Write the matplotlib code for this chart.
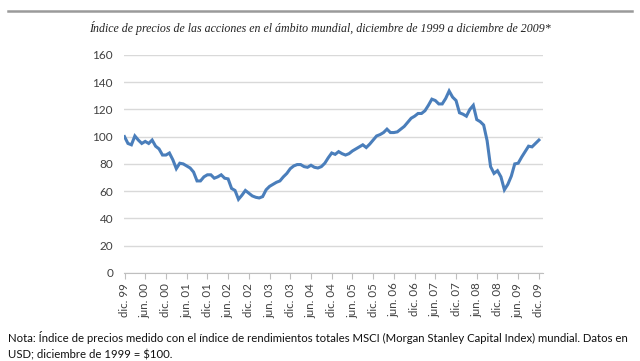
import numpy as np
import matplotlib
matplotlib.use("Agg")
import matplotlib.pyplot as plt

# monthly index, Dec 1999 = 100
index_values = [
    100, 95, 94, 100.5, 97.5, 95, 96.5, 95, 97.5, 93, 91, 86.5,
    86.5, 88, 83, 76.5, 80.5, 80, 78.5, 77, 74, 67.5, 67.5, 70.5,
    72, 72, 69.5, 70.5, 72, 69.5, 69, 62, 60.5, 54, 57, 60.5,
    58.5, 56.5, 55.5, 55, 56, 61, 63.5, 65, 66.5, 67.5, 70.5, 73,
    76.5, 78.5, 79.5, 79.5, 78, 77.5, 79, 77.5, 77, 78, 80.5, 84.5,
    88, 87, 89, 87.5, 86.5, 87.5, 89.5, 91, 92.5, 94, 92, 94.5,
    97.5, 100.5, 101.5, 103, 105.5, 103, 103, 103.5, 105.5, 107.5, 110.5, 113.5,
    115, 117, 117, 119, 123, 127.5, 126.5, 124, 124, 128, 133.5, 129,
    126.5, 117.5, 116.5, 115, 120, 123, 112.5, 111, 108.5, 97, 78, 73,
    75, 70.5, 61, 65, 71, 80, 80.5, 85, 89, 93, 92.5, 95,
    97.5,
]
tick_labels = ["dic. 99", "jun. 00", "dic. 00", "jun. 01", "dic. 01", "jun. 02",
               "dic. 02", "jun. 03", "dic. 03", "jun. 04", "dic. 04", "jun. 05",
               "dic. 05", "jun. 06", "dic. 06", "jun. 07", "dic. 07", "jun. 08",
               "dic. 08", "jun. 09", "dic. 09"]
y_ticks = [0, 20, 40, 60, 80, 100, 120, 140, 160]

title = ("Índice de precios de las acciones en el ámbito mundial, "
         "diciembre de 1999 a diciembre de 2009*")
note = ("Nota: Índice de precios medido con el índice de rendimientos totales MSCI "
        "(Morgan Stanley Capital Index) mundial. Datos en\nUSD; diciembre de 1999 = $100.")

fig = plt.figure(figsize=(6.4, 3.61), dpi=100)
ax = fig.add_axes([0.194, 0.244, 0.654, 0.604])

months = np.arange(len(index_values))
ax.plot(months, index_values, color="#4a7ebb", lw=2.2, solid_joinstyle="miter")

ax.set_ylim(0, 160)
ax.set_xlim(-0.1, 121.1)
ax.set_yticks(y_ticks)
ax.set_yticklabels([str(v) for v in y_ticks], family="Lato", fontsize=8.5, color="#404040")
ax.set_xticks(np.arange(0, 121, 6))
ax.set_xticklabels(tick_labels, rotation=90, family="Lato", fontsize=8.3, color="#404040")
ax.grid(axis="y", color="#d9d9d9", lw=1)
ax.set_axisbelow(True)
for s in ["top", "right", "left"]:
    ax.spines[s].set_visible(False)
ax.spines["bottom"].set_color("#bfbfbf")
ax.tick_params(axis="y", length=0, pad=8)
ax.tick_params(axis="x", length=4, color="#bfbfbf", pad=3)

# top rule and title
fig.add_artist(plt.Line2D([0.012, 0.988], [0.97, 0.97], color="#9a9a9a", lw=1.8))
fig.text(0.5, 0.922, title, ha="center", va="center", family="Liberation Serif",
         style="italic", fontsize=8.6, color="#222222")
fig.text(0.013, 0.043, note, ha="left", va="center", family="Lato", fontsize=8.2,
         color="#111111", linespacing=1.55)

fig.savefig("out.png", dpi=100)
